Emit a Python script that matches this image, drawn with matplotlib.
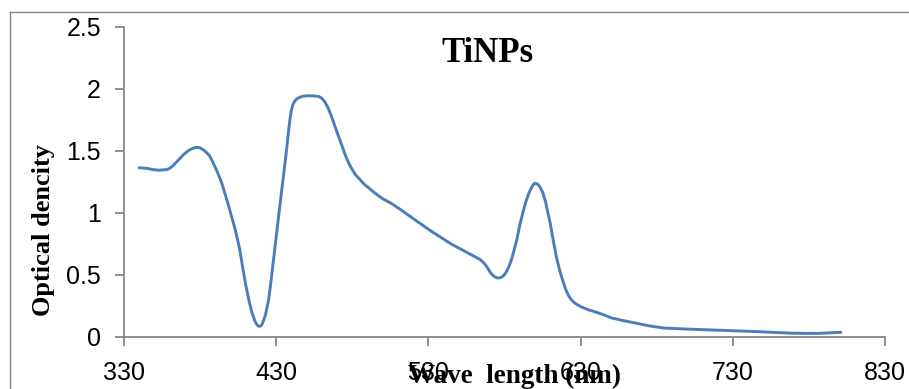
import matplotlib
matplotlib.use("Agg")
import matplotlib.pyplot as plt
from matplotlib.lines import Line2D

# Data
wavelength = [340, 345, 349, 353, 358, 360, 362, 364, 366, 369, 372, 374, 376, 378, 380,
              382, 384, 386, 388, 391, 394, 396, 398, 400, 403, 406, 408, 410, 412, 414,
              416, 417, 418, 419, 420, 421, 423, 425, 426, 428, 431, 433, 435, 437, 438,
              439, 440, 441, 442, 444, 447, 450, 454, 458, 460, 462, 464, 466, 468, 470,
              473, 475, 477, 479, 482, 485, 488, 492, 496, 500, 506, 512, 520, 531, 545,
              558, 564, 567, 569, 571, 573, 575, 577, 579, 581, 583, 585, 588, 590, 592,
              594, 596, 598, 599, 600, 601, 602, 603, 605, 607, 608, 610, 612, 614, 616,
              617, 619, 620, 622, 624, 626, 630, 635, 639, 645, 650, 657, 665, 675, 685,
              700, 715, 729, 745, 760, 768, 778, 786, 793, 801]
density = [1.365, 1.36, 1.35, 1.345, 1.35, 1.36, 1.38, 1.405, 1.43, 1.47, 1.50, 1.515, 1.525, 1.53, 1.525,
           1.51, 1.49, 1.465, 1.42, 1.34, 1.25, 1.17, 1.09, 1.00, 0.87, 0.71, 0.56, 0.42, 0.30, 0.20,
           0.13, 0.105, 0.09, 0.085, 0.09, 0.11, 0.18, 0.30, 0.39, 0.60, 0.92, 1.12, 1.32, 1.53, 1.65,
           1.75, 1.83, 1.875, 1.90, 1.925, 1.94, 1.945, 1.945, 1.94, 1.925, 1.895, 1.85, 1.79, 1.72, 1.65,
           1.55, 1.48, 1.42, 1.37, 1.31, 1.27, 1.23, 1.19, 1.15, 1.115, 1.075, 1.025, 0.955, 0.86, 0.75,
           0.665, 0.625, 0.59, 0.555, 0.515, 0.49, 0.477, 0.477, 0.49, 0.52, 0.57, 0.64, 0.78, 0.90, 1.00,
           1.09, 1.16, 1.21, 1.23, 1.24, 1.237, 1.23, 1.215, 1.17, 1.09, 1.03, 0.92, 0.78, 0.65, 0.55,
           0.505, 0.43, 0.39, 0.335, 0.30, 0.275, 0.245, 0.22, 0.205, 0.18, 0.155, 0.135, 0.115, 0.09, 0.072,
           0.064, 0.057, 0.051, 0.044, 0.036, 0.031, 0.029, 0.029, 0.033, 0.038]

xticks = [330, 430, 530, 630, 730, 830]
yticks = [0, 0.5, 1, 1.5, 2, 2.5]
ytick_labels = ["0", "0.5", "1", "1.5", "2", "2.5"]

W, H = 909, 389
fig = plt.figure(figsize=(W / 100, H / 100), dpi=100)
ax = fig.add_axes([124 / W, 1 - 337 / H, (885 - 124) / W, (337 - 27) / H])

ax.plot(wavelength, density, color="#4a7ebb", linewidth=2.1,
        solid_joinstyle="round", solid_capstyle="round")

ax.set_xlim(330, 830)
ax.set_ylim(0, 2.5)
ax.set_xticks(xticks)
ax.set_yticks(yticks)
ax.set_yticklabels(ytick_labels)

tick_font = ["Liberation Sans", "DejaVu Sans"]
for lbl in ax.get_xticklabels() + ax.get_yticklabels():
    lbl.set_fontfamily(tick_font)
    lbl.set_fontsize(18)
    lbl.set_color("black")

gray = "#868686"
for s in ["top", "right"]:
    ax.spines[s].set_visible(False)
for s in ["left", "bottom"]:
    ax.spines[s].set_color(gray)
    ax.spines[s].set_linewidth(1.3)
ax.tick_params(axis="both", direction="out", color=gray, width=1.3, length=6.5)
ax.tick_params(axis="x", pad=11)
ax.tick_params(axis="y", pad=10)

serif = ["Liberation Serif", "DejaVu Serif"]
fig.text(487 / W, 1 - 53 / H, "TiNPs", fontfamily=serif, fontweight="bold",
         fontsize=25, ha="center", va="center")
fig.text(44 / W, 1 - 230 / H, "Optical dencity", fontfamily=serif, fontweight="bold",
         fontsize=19, rotation=90, ha="center", va="center")
fig.text(515 / W, 6 / H, "Wave  length (nm)", fontfamily=serif, fontweight="bold",
         fontsize=19.5, ha="center", va="baseline")

# outer chart frame (top and left edges visible in the crop)
fig.add_artist(Line2D([10 / W, 1.0], [1 - 12 / H, 1 - 12 / H], transform=fig.transFigure,
                      color=gray, linewidth=1.0))
fig.add_artist(Line2D([10 / W, 10 / W], [0.0, 1 - 12 / H], transform=fig.transFigure,
                      color=gray, linewidth=1.0))

fig.savefig("out.png", dpi=100)
